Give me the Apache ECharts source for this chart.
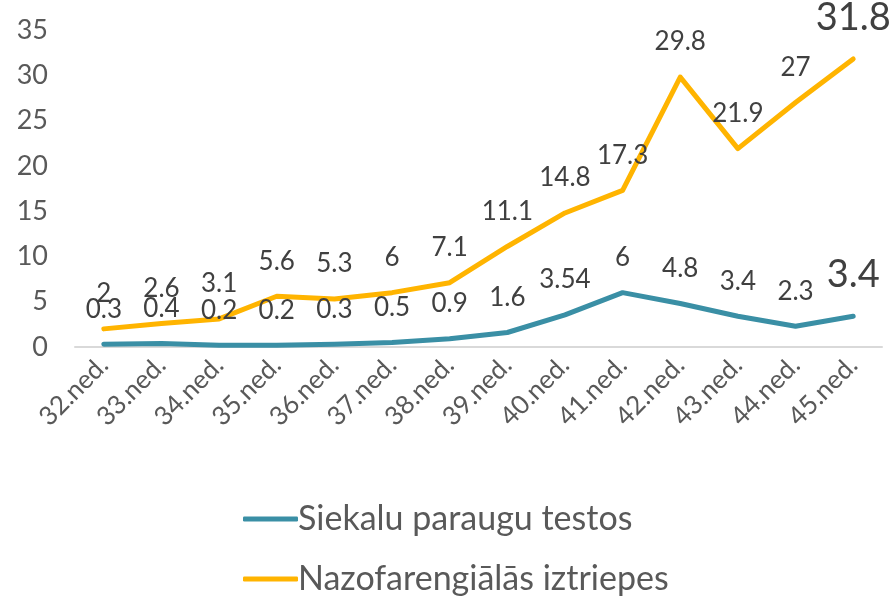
<!DOCTYPE html>
<html>
<head>
<meta charset="utf-8">
<script src="https://cdn.jsdelivr.net/npm/echarts@6/dist/echarts.min.js"></script>
<style>
  html, body { margin: 0; padding: 0; background: #fff; }
  #chart { width: 896px; height: 597px; }
</style>
</head>
<body>
<div id="chart"></div>
<script>
var weeks = ['32.ned.', '33.ned.', '34.ned.', '35.ned.', '36.ned.', '37.ned.', '38.ned.',
  '39.ned.', '40.ned.', '41.ned.', '42.ned.', '43.ned.', '44.ned.', '45.ned.']
var siekalu = [0.3, 0.4, 0.2, 0.2, 0.3, 0.5, 0.9, 1.6, 3.54, 6, 4.8, 3.4, 2.3, 3.4]
var nazo = [2, 2.6, 3.1, 5.6, 5.3, 6, 7.1, 11.1, 14.8, 17.3, 29.8, 21.9, 27, 31.8]
var seriesNames = ['Siekalu paraugu testos', 'Nazofarengiālās iztriepes']

var font = 'Lato'

// last point label is drawn bigger
function withBigLast(arr) {
  return arr.map(function (v, i) {
    if (i === arr.length - 1) {
      return { value: v, label: { fontSize: 38 } }
    }
    return v
  })
}

// one legend per row, stacked
function legendRow(name, top) {
  return {
    orient: 'horizontal',
    left: 238,
    top: top,
    itemWidth: 55,
    itemHeight: 5,
    icon: 'roundRect',
    data: [name],
    textStyle: {
      color: '#595959',
      fontSize: 34,
      fontFamily: font,
      padding: [0, 0, 0, -5]
    }
  }
}

var chart = echarts.init(document.getElementById('chart'))
chart.setOption({
  animation: false,
  color: ['#3A8FA5', '#FFB400'],
  textStyle: { fontFamily: font },
  grid: {
    left: 75,
    right: 14,
    top: 30,
    bottom: 250,
    containLabel: false
  },
  xAxis: {
    type: 'category',
    data: weeks,
    boundaryGap: true,
    axisLine: { show: true, lineStyle: { color: '#d9d9d9', width: 2 } },
    axisTick: { show: false },
    axisLabel: {
      rotate: 45,
      margin: 14,
      interval: 0,
      color: '#595959',
      fontSize: 26,
      fontFamily: font
    }
  },
  yAxis: {
    type: 'value',
    min: 0,
    max: 35,
    interval: 5,
    axisLine: { show: false },
    axisTick: { show: false },
    splitLine: { show: false },
    axisLabel: {
      margin: 27,
      color: '#595959',
      fontSize: 27,
      fontFamily: font
    }
  },
  legend: [
    legendRow(seriesNames[0], 497),
    legendRow(seriesNames[1], 557)
  ],
  series: [
    {
      name: seriesNames[0],
      type: 'line',
      data: withBigLast(siekalu),
      symbol: 'circle',
      symbolSize: 2,
      lineStyle: { width: 5, cap: 'round', join: 'round' },
      label: {
        show: true,
        position: 'top',
        distance: 21,
        color: '#404040',
        fontSize: 26,
        fontFamily: font
      }
    },
    {
      name: seriesNames[1],
      type: 'line',
      data: withBigLast(nazo),
      symbol: 'circle',
      symbolSize: 2,
      lineStyle: { width: 5, cap: 'round', join: 'round' },
      label: {
        show: true,
        position: 'top',
        distance: 21,
        color: '#404040',
        fontSize: 26,
        fontFamily: font
      }
    }
  ]
})
</script>
</body>
</html>
